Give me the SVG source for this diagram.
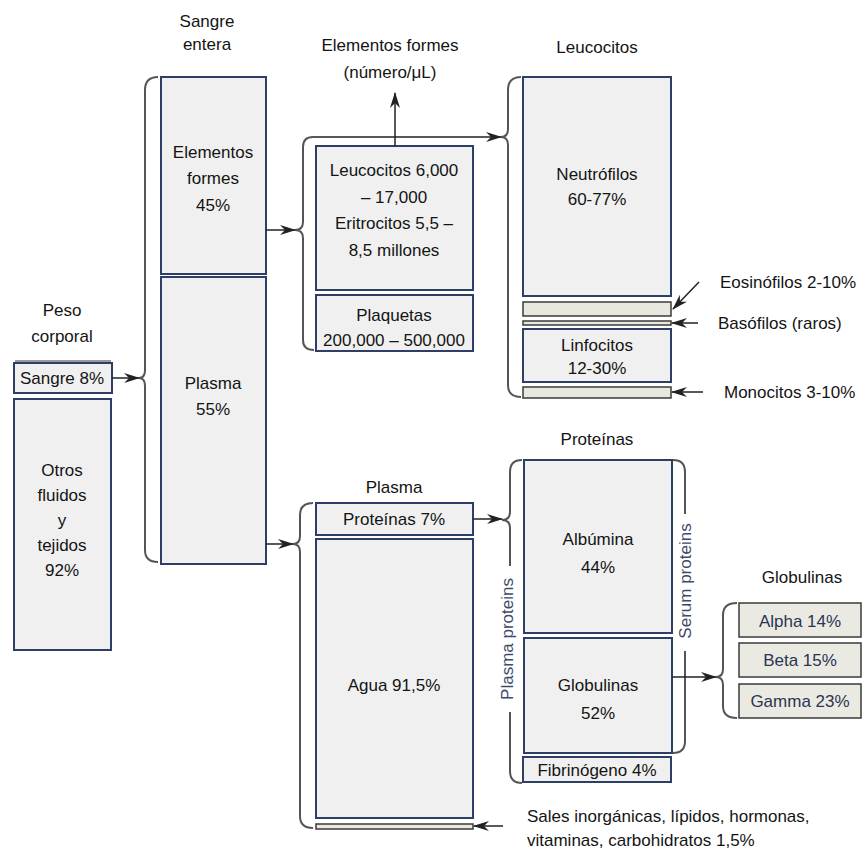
<svg xmlns="http://www.w3.org/2000/svg" width="868" height="852" viewBox="0 0 868 852">
<style>
text{font-family:"Liberation Sans",Arial,sans-serif;font-size:17px;fill:#141414;text-anchor:middle;dominant-baseline:central}
.box{fill:#f0f0f0;stroke:#2d3f66;stroke-width:2}
.bar{fill:#e9e8de;stroke:#3a3a3a;stroke-width:1.5}
.glob{fill:#ebeae2;stroke:#3a3a3a;stroke-width:1.5}
.gt{fill:#2a3552}
.side{fill:#3d4b6b}
.brace{fill:none;stroke:#555;stroke-width:2}
.conn{fill:none;stroke:#222;stroke-width:1.5}
.lbl{text-anchor:start}
</style>
<defs>
<marker id="ah" viewBox="0 0 16 10" refX="15" refY="5" markerWidth="16" markerHeight="10" orient="auto" markerUnits="userSpaceOnUse">
<path d="M0,0 L16,5 L0,10 L5,5 z" fill="#222"/>
</marker>
</defs>
<rect width="868" height="852" fill="#ffffff"/>

<g id="titles">
<text x="62" y="310">Peso</text>
<text x="62" y="336">corporal</text>
<text x="207" y="21">Sangre</text>
<text x="207" y="44">entera</text>
<text x="390" y="45">Elementos formes</text>
<text x="390" y="72">(número/μL)</text>
<text x="597" y="47">Leucocitos</text>
<text x="597" y="439">Proteínas</text>
<text x="394" y="487">Plasma</text>
<text x="802" y="577">Globulinas</text>
</g>

<g id="n-sangre"><line x1="15" y1="361" x2="111" y2="361" stroke="#777" stroke-width="1.5"/><rect class="box" x="14" y="363" width="98" height="30"/><text x="62" y="378">Sangre 8%</text></g>
<g id="n-otros"><rect class="box" x="14" y="399" width="97" height="251"/>
<text x="62" y="470">Otros</text><text x="62" y="495">fluidos</text><text x="62" y="520">y</text><text x="62" y="545">tejidos</text><text x="62" y="570">92%</text></g>

<g id="n-elementos"><rect class="box" x="161" y="77" width="105" height="197"/>
<text x="213" y="152">Elementos</text><text x="213" y="178">formes</text><text x="213" y="205">45%</text></g>
<g id="n-plasma"><rect class="box" x="161" y="277" width="105" height="287"/>
<text x="213" y="383">Plasma</text><text x="213" y="409">55%</text></g>

<g id="n-leuceri"><rect class="box" x="316" y="146" width="157" height="144"/>
<text x="394" y="170">Leucocitos 6,000</text><text x="394" y="197">– 17,000</text><text x="394" y="223">Eritrocitos 5,5 –</text><text x="394" y="250">8,5 millones</text></g>
<g id="n-plaquetas"><rect class="box" x="316" y="295" width="157" height="56"/>
<text x="394" y="315">Plaquetas</text><text x="394" y="340">200,000 – 500,000</text></g>

<g id="n-neutro"><rect class="box" x="523" y="77" width="148" height="219"/>
<text x="597" y="174">Neutrófilos</text><text x="597" y="199">60-77%</text></g>
<g id="n-eosino"><rect class="bar" x="523" y="302" width="148" height="14"/></g>
<g id="n-baso"><rect class="bar" x="523" y="321" width="148" height="4"/></g>
<g id="n-linfo"><rect class="box" x="523" y="329" width="148" height="53"/>
<text x="597" y="345">Linfocitos</text><text x="597" y="368">12-30%</text></g>
<g id="n-mono"><rect class="bar" x="523" y="387" width="148" height="11"/></g>
<text class="lbl" x="720" y="282">Eosinófilos 2-10%</text>
<text class="lbl" x="718" y="323">Basófilos (raros)</text>
<text class="lbl" x="724" y="392">Monocitos 3-10%</text>

<g id="n-prot7"><rect class="box" x="316" y="503" width="157" height="32"/><text x="394" y="519">Proteínas 7%</text></g>
<g id="n-agua"><rect class="box" x="316" y="539" width="157" height="279"/><text x="394" y="685">Agua 91,5%</text></g>
<g id="n-sales"><rect class="bar" x="316" y="824" width="157" height="5"/></g>
<text class="lbl" x="527" y="816">Sales inorgánicas, lípidos, hormonas,</text>
<text class="lbl" x="527" y="840">vitaminas, carbohidratos 1,5%</text>

<g id="n-albumina"><rect class="box" x="524" y="460" width="148" height="173"/>
<text x="598" y="539">Albúmina</text><text x="598" y="567">44%</text></g>
<g id="n-globulinas"><rect class="box" x="524" y="638" width="148" height="115"/>
<text x="598" y="685">Globulinas</text><text x="598" y="713">52%</text></g>
<g id="n-fibrino"><rect class="box" x="523" y="757" width="148" height="25"/><text x="597" y="770">Fibrinógeno 4%</text></g>
<text class="side" transform="translate(507,639) rotate(-90)">Plasma proteins</text>
<text class="side" transform="translate(685,581) rotate(-90)">Serum proteins</text>

<g id="n-alpha"><rect class="glob" x="739" y="603" width="122" height="34"/><text class="gt" x="800" y="621">Alpha 14%</text></g>
<g id="n-beta"><rect class="glob" x="739" y="643" width="122" height="34"/><text class="gt" x="800" y="660">Beta 15%</text></g>
<g id="n-gamma"><rect class="glob" x="739" y="684" width="122" height="34"/><text class="gt" x="800" y="701">Gamma 23%</text></g>

<g id="connectors">
<path class="brace" d="M158,77 Q145,77 145,90 L145,370 Q145,378 139,378 Q145,378 145,386 L145,550 Q145,562 158,562"/>
<path class="brace" d="M313,137 Q303,137 303,147 L303,222 Q303,230 295,230 Q303,230 303,238 L303,340 Q303,350 314,350"/>
<path class="brace" d="M521,77 Q508,77 508,90 L508,129 Q508,137 501,137 Q508,137 508,145 L508,385 Q508,397 521,397"/>
<path class="brace" d="M313,503 Q300,503 300,515 L300,536 Q300,544 293,544 Q300,544 300,552 L300,816 Q300,828 313,828"/>
<path class="brace" d="M522,460 Q510,460 510,472 L510,512 Q510,520 502,520 Q510,520 510,528 L510,566"/>
<path class="brace" d="M510,712 L510,771 Q510,783 522,783"/>
<path class="brace" d="M673,460 Q685,460 685,472 L685,514"/>
<path class="brace" d="M685,651 L685,741 Q685,753 673,753"/>
<path class="brace" d="M737,603 Q723,603 723,615 L723,669 Q723,677 716,677 Q723,677 723,685 L723,706 Q723,718 737,718"/>
<line class="conn" x1="112" y1="378" x2="139" y2="378" marker-end="url(#ah)"/>
<line class="conn" x1="266" y1="230" x2="295" y2="230" marker-end="url(#ah)"/>
<line class="conn" x1="266" y1="544" x2="293" y2="544" marker-end="url(#ah)"/>
<line class="conn" x1="313" y1="137" x2="501" y2="137" marker-end="url(#ah)"/>
<line class="conn" x1="395" y1="146" x2="395" y2="93" marker-end="url(#ah)"/>
<line class="conn" x1="473" y1="519" x2="502" y2="519" marker-end="url(#ah)"/>
<line class="conn" x1="672" y1="677" x2="716" y2="677" marker-end="url(#ah)"/>
<line class="conn" x1="699" y1="282" x2="673" y2="309" marker-end="url(#ah)"/>
<line class="conn" x1="698" y1="323" x2="672" y2="323" marker-end="url(#ah)"/>
<line class="conn" x1="703" y1="392" x2="672" y2="392" marker-end="url(#ah)"/>
<line class="conn" x1="503" y1="826" x2="474" y2="826" marker-end="url(#ah)"/>
</g>
</svg>
